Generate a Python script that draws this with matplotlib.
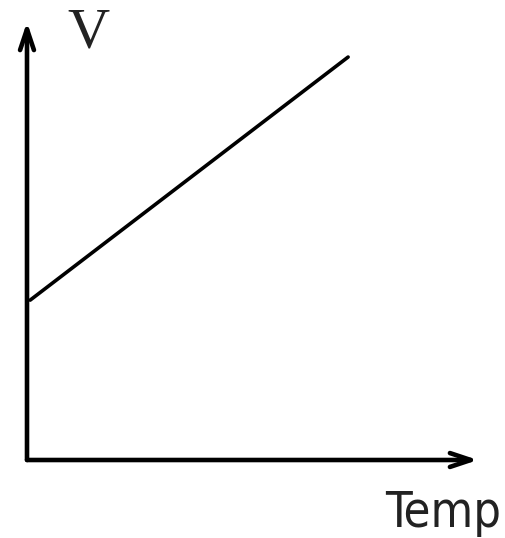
import matplotlib
matplotlib.use("Agg")
import matplotlib.pyplot as plt

# Data (arbitrary units)
temp = [0.07, 7.12]
volume = [3.65, 9.2]
x_label = "Temp"
y_label = "V"

W, H = 505, 538
fig = plt.figure(figsize=(W / 100, H / 100), dpi=100)
fig.patch.set_facecolor("white")

# axes box in pixel terms: x 27..478, y 460(bottom)..22(top)
left, right, bottom_px, top_px = 27, 478, 460, 22
ax = fig.add_axes([left / W, (H - bottom_px) / H, (right - left) / W, (bottom_px - top_px) / H])
ax.set_xlim(0, 10)
ax.set_ylim(0, 10)
ax.axis("off")

ax.plot(temp, volume, color="black", lw=2.6, solid_capstyle="round")

arrow = dict(arrowstyle="->,head_length=1.5,head_width=0.5", color="black", lw=3.3,
             shrinkA=0, shrinkB=0)
ax.annotate("", xy=(0, 10), xytext=(0, 0), arrowprops=arrow, annotation_clip=False)
ax.annotate("", xy=(10, 0), xytext=(0, 0), arrowprops=arrow, annotation_clip=False)

fig.text(88 / W, 1 - 47 / H, y_label, fontsize=42, family="Liberation Serif",
         color="#222222", ha="center", va="baseline")
fig.text(501 / W, 1 - 527 / H, x_label, fontsize=35, family="DejaVu Sans",
         fontstretch="condensed", color="#222222", ha="right", va="baseline")

fig.savefig("out.png", dpi=100, facecolor="white")
